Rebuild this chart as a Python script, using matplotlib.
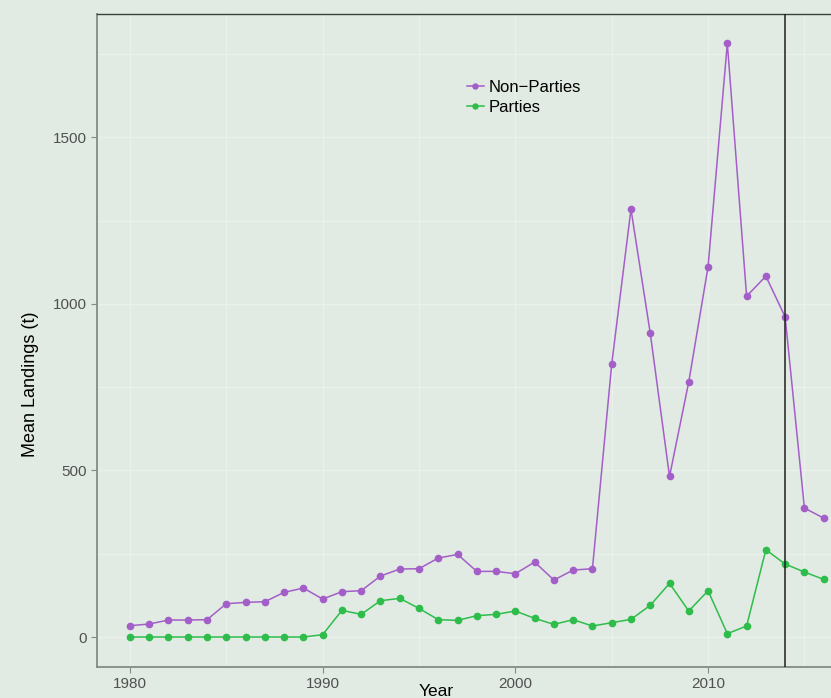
import matplotlib
matplotlib.use("Agg")
import matplotlib.pyplot as plt
from matplotlib.ticker import MultipleLocator

plt.rcParams["font.family"] = ["Liberation Sans", "DejaVu Sans"]

years = list(range(1980, 2017))
non_parties = [34, 39, 51, 51, 52, 100, 104, 106, 134, 147,
               114, 136, 139, 183, 204, 205, 237, 248, 197, 197,
               190, 225, 171, 201, 205, 819, 1284, 912, 482, 766,
               1111, 1782, 1023, 1083, 961, 387, 357]
parties = [0, 0, 0, 0, 0, 0, 0, 0, 0, 0,
           7, 80, 68, 109, 116, 86, 52, 50, 64, 68,
           78, 56, 38, 52, 33, 43, 53, 95, 161, 78,
           139, 10, 33, 262, 219, 195, 173]
cutoff_year = 2014

bg = "#e1ebe3"
purple = "#a35ec8"
green = "#2ebd4b"

W, H = 831, 698
fig = plt.figure(figsize=(W / 100, H / 100), dpi=100)
fig.patch.set_facecolor(bg)
ax = fig.add_axes([97 / W, (H - 667) / H, (W - 97) / W, (667 - 14) / H])
ax.set_facecolor(bg)

ax.plot(years, non_parties, color=purple, lw=1.1, marker="o", ms=4.5,
        label="Non\u2212Parties", zorder=3)
ax.plot(years, parties, color=green, lw=1.1, marker="o", ms=4.5,
        label="Parties", zorder=3)
ax.axvline(cutoff_year, color="#1f1f1f", lw=1.1, zorder=4)

ax.set_xlim(1978.29, 2016.38)
ax.set_ylim(-90, 1870)
ax.xaxis.set_major_locator(MultipleLocator(10))
ax.xaxis.set_minor_locator(MultipleLocator(5))
ax.yaxis.set_major_locator(MultipleLocator(500))
ax.yaxis.set_minor_locator(MultipleLocator(250))
ax.grid(which="both", color="#eaf1ec", lw=1.0, zorder=0)
ax.set_axisbelow(True)

for side in ["left", "bottom"]:
    ax.spines[side].set_color("#838b85")
    ax.spines[side].set_linewidth(1.3)
ax.spines["top"].set_color("#3a3f3b")
ax.spines["top"].set_linewidth(1.0)
ax.spines["right"].set_visible(False)

ax.tick_params(which="major", length=4, color="#838b85", labelsize=11,
               labelcolor="#505050", pad=3)
ax.tick_params(which="minor", length=0)

fig.text(436 / W, 2.5 / H, "Year", ha="center", va="baseline",
         fontsize=12.5, color="black")
fig.text(31 / W, (H - 384) / H, "Mean Landings (t)", ha="center",
         va="center", rotation=90, fontsize=13, color="black")

ax.legend(loc="upper left", bbox_to_anchor=(467 / W, (H - 80) / H),
          bbox_transform=fig.transFigure, frameon=False, fontsize=12,
          handlelength=1.0, handletextpad=0.3, labelspacing=0.3,
          borderpad=0, borderaxespad=0, markerscale=0.8)

fig.savefig("out.png", dpi=100, facecolor=bg)
